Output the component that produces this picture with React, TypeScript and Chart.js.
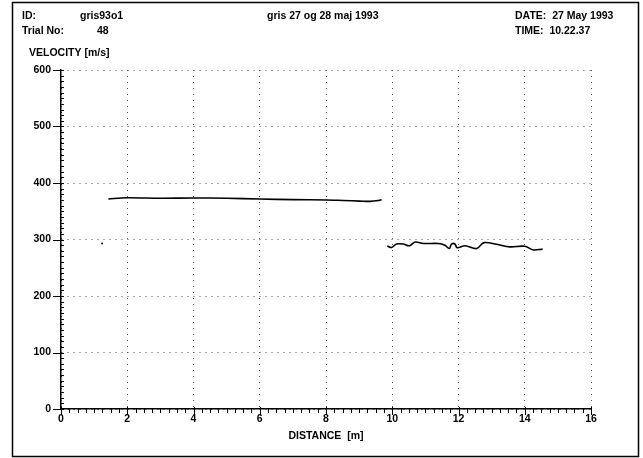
import React, { useEffect, useRef } from "react";
import { Chart, registerables } from "chart.js";

Chart.register(...registerables);

const FONT = "'Liberation Sans', Arial, sans-serif";

// Header texts
const idLabel = "ID:";
const idValue = "gris93o1";
const trialLabel = "Trial No:";
const trialValue = "48";
const titleText = "gris 27 og 28 maj 1993";
const dateText = "DATE:  27 May 1993";
const timeText = "TIME:  10.22.37";
const yTitle = "VELOCITY [m/s]";
const xTitle = "DISTANCE  [m]";

// Axis ranges / tick steps
const xMin = 0;
const xMax = 16;
const xStep = 2;
const xMinorStep = 0.25;
const yMin = 0;
const yMax = 600;
const yStep = 100;
const yMinorStep = 10;

// Series 1 (before the break)
const run1Distance = [1.43, 1.98, 2.99, 3.99, 5.0, 6.0, 7.01, 8.02, 8.52, 9.03, 9.33, 9.58, 9.68];
const run1Velocity = [371.7, 374, 373, 373.5, 373, 371.7, 370.5, 370, 369, 368, 367.5, 369, 370.5];

// Series 2 (after the break)
const run2Distance = [9.85, 9.98, 10.13, 10.33, 10.52, 10.69, 10.94, 11.39, 11.59, 11.72, 11.79, 11.89, 11.96, 12.2, 12.55, 12.77, 13.15, 13.55, 14.0, 14.26, 14.54];
const run2Velocity = [288.5, 286, 292, 292, 289, 295.6, 293, 293, 290, 284, 292, 292, 285.5, 289, 284, 294.5, 291.5, 287, 288, 281.5, 283];

// Stray point
const strayDistance = [1.24];
const strayVelocity = [293];

const pts = (xs: number[], ys: number[]) => xs.map((x, i) => ({ x, y: ys[i] }));

const decorPlugin = {
  id: "decor",
  afterDraw(chart: any) {
    const ctx = chart.ctx as CanvasRenderingContext2D;
    const xs = chart.scales.x;
    const ys = chart.scales.y;
    const area = chart.chartArea;
    ctx.save();
    // outer frame
    ctx.strokeStyle = "#000";
    ctx.lineWidth = 1.5;
    ctx.strokeRect(12.5, 2.5, 626, 454);

    // minor / major ticks on x axis
    ctx.lineWidth = 1;
    ctx.beginPath();
    for (let v = xMin; v <= xMax + 1e-9; v += xMinorStep) {
      const px = Math.round(xs.getPixelForValue(v)) + 0.5;
      const major = Math.abs(v / xStep - Math.round(v / xStep)) < 1e-6;
      ctx.moveTo(px, area.bottom - (major ? 2 : 0));
      ctx.lineTo(px, area.bottom + (major ? 6 : 4));
    }
    // ticks on y axis
    for (let v = yMin; v <= yMax + 1e-9; v += yMinorStep) {
      const py = Math.round(ys.getPixelForValue(v)) + 0.5;
      const major = v % yStep === 0;
      if (major) {
        ctx.moveTo(area.left - 8, py);
        ctx.lineTo(area.left + 3, py);
      } else {
        ctx.moveTo(area.left - 1, py);
        ctx.lineTo(area.left + 3, py);
      }
    }
    ctx.stroke();

    // texts
    ctx.fillStyle = "#000";
    ctx.font = `bold 10.5px ${FONT}`;
    ctx.textBaseline = "middle";
    ctx.textAlign = "left";
    ctx.fillText(idLabel, 22, 16);
    ctx.fillText(idValue, 80, 16);
    ctx.fillText(trialLabel, 22, 31);
    ctx.fillText(trialValue, 97, 31);
    ctx.fillText(titleText, 267, 16);
    ctx.fillText(dateText, 515, 16);
    ctx.fillText(timeText, 515, 31);
    ctx.fillText(yTitle, 29, 53);
    ctx.restore();
  },
};

export default function App() {
  const ref = useRef<HTMLCanvasElement | null>(null);
  useEffect(() => {
    if (!ref.current) return;
    const tickFont = { family: FONT, size: 10.5, weight: "bold" as const };
    const chart = new Chart(ref.current, {
      type: "line",
      data: {
        datasets: [
          {
            data: pts(run1Distance, run1Velocity),
            borderColor: "#000",
            borderWidth: 1.6,
            pointRadius: 0,
            tension: 0.3,
            fill: false,
          },
          {
            data: pts(run2Distance, run2Velocity),
            borderColor: "#000",
            borderWidth: 1.6,
            pointRadius: 0,
            tension: 0.35,
            fill: false,
          },
          {
            data: pts(strayDistance, strayVelocity),
            showLine: false,
            pointRadius: 1,
            pointBackgroundColor: "#000",
            pointBorderWidth: 0,
          },
        ],
      },
      options: {
        animation: false,
        responsive: false,
        events: [],
        layout: { padding: { left: 0, right: 52, top: 70, bottom: 0 } },
        plugins: { legend: { display: false }, tooltip: { enabled: false } },
        scales: {
          x: {
            type: "linear",
            min: xMin,
            max: xMax,
            afterFit: (s: any) => {
              s.height = 49;
            },
            ticks: { stepSize: xStep, color: "#000", font: tickFont, padding: 4, maxRotation: 0 },
            grid: { color: "#555", lineWidth: 1, drawTicks: false },
            border: { display: true, color: "#000", width: 1.5, dash: [1, 5] },
            title: {
              display: true,
              text: xTitle,
              color: "#000",
              font: tickFont,
              padding: { top: 0, bottom: 16 },
            },
          },
          y: {
            type: "linear",
            min: yMin,
            max: yMax,
            afterFit: (s: any) => {
              s.width = 61;
            },
            ticks: { stepSize: yStep, color: "#000", font: tickFont, padding: 10 },
            grid: { color: "#555", lineWidth: 1, drawTicks: false },
            border: { display: true, color: "#000", width: 1.5, dash: [1, 5] },
          },
        },
      },
      plugins: [decorPlugin],
    });
    return () => chart.destroy();
  }, []);
  return (
    <div style={{ position: "fixed", left: 0, top: 0, width: 643, height: 458, background: "#fff" }}>
      <canvas ref={ref} width={643} height={458} />
    </div>
  );
}
